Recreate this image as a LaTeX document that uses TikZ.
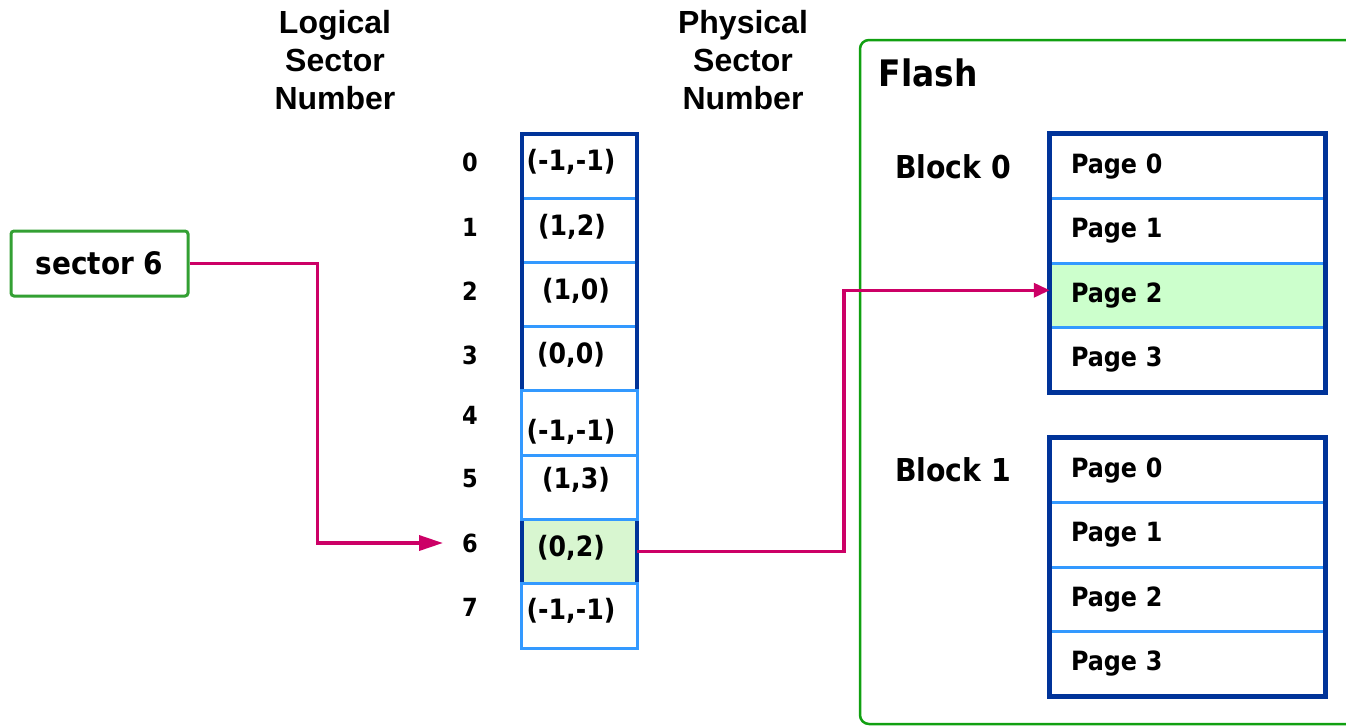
\documentclass[tikz,border=0pt]{standalone}
\usepackage{fontspec}
\setmainfont{Liberation Sans}
\newfontfamily\tah{DejaVu Sans Condensed}
\usetikzlibrary{arrows.meta}
\definecolor{navy}{HTML}{003399}
\definecolor{skyline}{HTML}{3399FF}
\definecolor{boxgreen}{HTML}{33A033}
\definecolor{framegreen}{HTML}{11A011}
\definecolor{hot}{HTML}{CC0066}
\definecolor{mint}{HTML}{CCFFCC}
\definecolor{mintpale}{HTML}{D8F6D0}
\begin{document}
\begin{tikzpicture}[x=1pt,y=-1pt,
  hdr/.style={font=\bfseries\fontsize{32}{38}\selectfont, align=center, inner sep=0},
  num/.style={font=\tah\bfseries\fontsize{25}{30}\selectfont, inner sep=0},
  pair/.style={font=\tah\bfseries\fontsize{28}{30}\selectfont, inner sep=0},
  cellbox/.style={minimum width=115, minimum height=64.25, inner sep=0},
  pagebox/.style={minimum height=64.5, text width=233, inner xsep=21, inner ysep=0,
    align=left, font=\tah\bfseries\fontsize{26.5}{30}\selectfont},
  blk/.style={font=\tah\bfseries\fontsize{31.5}{36}\selectfont, inner sep=0},
  link/.style={hot, line width=3.5},
  divider/.style={skyline, line width=3},
  frame/.style={navy, line width=4.5}]
\useasboundingbox (0,0) rectangle (1346,726);

% column headings
\node[hdr] (hl) at (335,60) {Logical\\Sector\\Number};
\node[hdr] (hp) at (743,60) {Physical\\Sector\\Number};

% source sector
\node[draw=boxgreen, line width=3, rounded corners=3, minimum width=177, minimum height=65,
  font=\tah\bfseries\fontsize{31}{34}\selectfont] (s6) at (99.5,263.5) {sector 6};

% mapping table cells
\foreach \i in {0,...,7}
  \node[cellbox] (r\i) at (579.5,{134+64.25*(\i+0.5)}) {};
\fill[mintpale] (r6.north west) rectangle (r6.south east);
\draw[frame] (r0.north west) rectangle (r7.south east);
\foreach \i in {0,1,2}
  \draw[divider] ([xshift=2pt]r\i.south west) -- ([xshift=-2pt]r\i.south east);
\foreach \i in {4,5,7}
  \draw[divider, fill=white] (r\i.north west) rectangle (r\i.south east);

% table entries
\node[pair] (t0) at (571,162) {(-1,-1)};
\node[pair] (t1) at (572,227) {(1,2)};
\node[pair] (t2) at (576,291) {(1,0)};
\node[pair] (t3) at (571,355) {(0,0)};
\node[pair] (t4) at (571,432) {(-1,-1)};
\node[pair] (t5) at (576,480) {(1,3)};
\node[pair] (t6) at (571,548) {(0,2)};
\node[pair] (t7) at (571,611) {(-1,-1)};

% logical sector numbers
\foreach \i/\y in {0/162,1/227,2/291,3/355,4/415,5/479,6/543,7/607}
  \node[num] (l\i) at (470,\y) {\i};

% flash device
\draw[framegreen, line width=2.5, rounded corners=9] (860,40) rectangle (1380,724);
\node[font=\tah\bfseries\fontsize{36.5}{40}\selectfont, inner sep=0] (fl) at (928,73) {Flash};
\node[blk] (b0) at (953,167) {Block 0};
\node[blk] (b1) at (953,470) {Block 1};

% block 0 pages
\foreach \j in {0,...,3}
  \node[pagebox] (p0\j) at (1187.5,{134+64.5*(\j+0.5)}) {Page \j};
\fill[mint] ([xshift=2pt]p02.north west) rectangle ([xshift=-2pt]p02.south east);
\node[pagebox] at (p02) {Page 2};
\foreach \j in {0,1,2}
  \draw[divider] (p0\j.south west) -- (p0\j.south east);
\draw[navy, line width=5] (p00.north west) rectangle (p03.south east);

% block 1 pages
\foreach \j in {0,...,3}
  \node[pagebox] (p1\j) at (1187.5,{438+64.5*(\j+0.5)}) {Page \j};
\foreach \j in {0,1,2}
  \draw[divider] (p1\j.south west) -- (p1\j.south east);
\draw[navy, line width=5] (p10.north west) rectangle (p13.south east);

% lookup arrows
\draw[link, -{Triangle[length=24pt,width=15pt]}]
  (s6.east) -- ++(128,0) |- ([xshift=-27pt]l6.center);
\draw[link, -{Triangle[length=16pt,width=14pt]}]
  (r6.east) -- ++(207,0) |- ([yshift=5pt]p02.west);
\end{tikzpicture}
\end{document}
